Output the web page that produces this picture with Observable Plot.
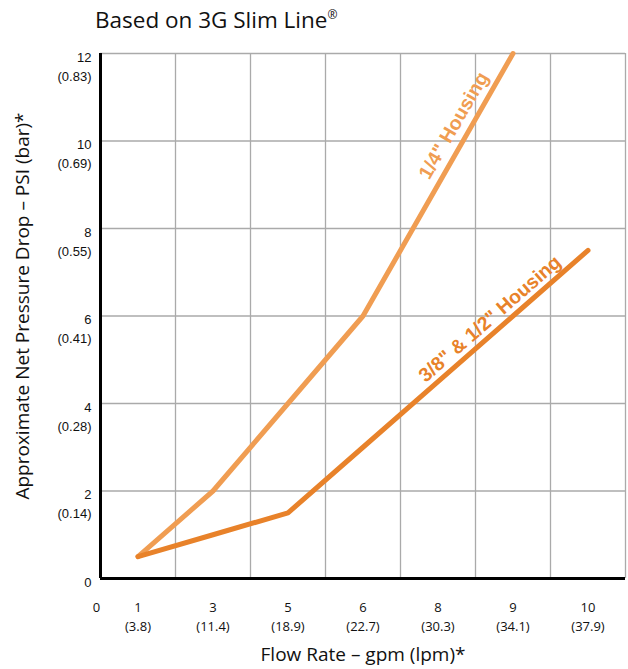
<!DOCTYPE html>
<html>
<head>
<meta charset="utf-8">
<script src="https://cdn.jsdelivr.net/npm/d3@7"></script>
<script src="https://cdn.jsdelivr.net/npm/@observablehq/plot@0.6"></script>
<style>
  html, body { margin: 0; padding: 0; background: #fff; }
  #title { height: 40px; line-height: 40px; padding-left: 95px; font-family: "Open Sans", sans-serif; font-size: 22.5px; color: #111; }
  #title sup { font-size: 12px; vertical-align: 9px; line-height: 0; }
</style>
</head>
<body>
<div id="title">Based on 3G Slim Line<sup>®</sup></div>
<div id="chart"></div>
<script>
// categories (flow rate, gpm) and their lpm equivalents
const xCats = ["1", "3", "5", "6", "8", "9", "10"];
const xLpm = ["3.8", "11.4", "18.9", "22.7", "30.3", "34.1", "37.9"];
// y ticks (PSI) and bar equivalents
const yTicks = [0, 2, 4, 6, 8, 10, 12];
const yBar = ["", "0.14", "0.28", "0.41", "0.55", "0.69", "0.83"];
// series: 1/4" Housing
const quarterFlow = ["1", "3", "5", "6", "8", "9"];
const quarterPsi = [0.5, 2, 4, 6, 9, 12];
// series: 3/8" & 1/2" Housing
const halfFlow = ["1", "3", "5", "6", "8", "9", "10"];
const halfPsi = [0.5, 1, 1.5, 3, 4.5, 6, 7.5];
const seriesNames = ["1/4\" Housing", "3/8\" & 1/2\" Housing"];

const lightC = "#F09D52";
const darkC = "#E8822A";

const xPos = c => xCats.indexOf(c) + 0.5;
const quarter = quarterFlow.map((f, i) => ({x: xPos(f), y: quarterPsi[i]}));
const half = halfFlow.map((f, i) => ({x: xPos(f), y: halfPsi[i]}));

function along(pts, i, t) {
  return {x: pts[i].x + (pts[i + 1].x - pts[i].x) * t, y: pts[i].y + (pts[i + 1].y - pts[i].y) * t};
}
const lab1 = along(quarter, 4, 0.39);
const lab2 = along(half, 4, 0.805);

const edges = d3.range(1, xCats.length + 1);
const xTickPos = xCats.map(xPos);

const chart = Plot.plot({
  width: 628,
  height: 629,
  marginLeft: 100,
  marginRight: 3,
  marginTop: 13,
  marginBottom: 91,
  x: {domain: [0, xCats.length], axis: null},
  y: {domain: [0, 12], axis: null},
  style: {fontFamily: "'Open Sans', sans-serif", fontSize: "13px", color: "#111", background: "white", overflow: "visible"},
  marks: [
    Plot.ruleX(edges, {stroke: "#aaa", strokeWidth: 1.3}),
    Plot.ruleY(yTicks.filter(v => v > 0), {stroke: "#aaa", strokeWidth: 1.3}),
    Plot.line(quarter, {x: "x", y: "y", stroke: lightC, strokeWidth: 5, strokeLinecap: "round", strokeLinejoin: "round"}),
    Plot.line(half, {x: "x", y: "y", stroke: darkC, strokeWidth: 5, strokeLinecap: "round", strokeLinejoin: "round"}),
    Plot.ruleX([0], {stroke: "#000", strokeWidth: 3}),
    Plot.ruleY([0], {stroke: "#000", strokeWidth: 3}),
    Plot.text([lab1], {x: "x", y: "y", text: () => seriesNames[0], rotate: -60, dx: -13.5, dy: -8,
      fill: lightC, fontWeight: "bold", fontSize: 19.5, fontFamily: "'Liberation Sans', Arial, sans-serif"}),
    Plot.text([lab2], {x: "x", y: "y", text: () => seriesNames[1], rotate: -41, dx: -8.5, dy: -10,
      fill: darkC, fontWeight: "bold", fontSize: 19.5, fontFamily: "'Liberation Sans', Arial, sans-serif"}),
    Plot.text(yTicks, {x: 0, y: d => d, text: (d, i) => d === 0 ? "0" : `${d}\n(${yBar[yTicks.indexOf(d)]})`,
      textAnchor: "end", lineAnchor: "top", dx: -9, dy: -5, fontSize: 13, lineHeight: 1.45,
      fontFamily: "'Liberation Sans', Arial, sans-serif", fill: "#111"}),
    Plot.text([0], {x: d => d, y: 0, text: d => String(d),
      textAnchor: "middle", lineAnchor: "top", dx: -4, dy: 24, fontSize: 13, fill: "#111"}),
    Plot.text(xTickPos, {x: d => d, y: 0, text: d => `${xCats[d - 0.5]}\n(${xLpm[d - 0.5]})`,
      textAnchor: "middle", lineAnchor: "top", dy: 20, fontSize: 13, lineHeight: 1.45, fill: "#111"}),
    Plot.text(["Approximate Net Pressure Drop – PSI (bar)*"], {frameAnchor: "left", textAnchor: "middle", text: d => d, rotate: -90,
      dx: -78, dy: -10, fontSize: 19, fill: "#111"}),
    Plot.text(["Flow Rate – gpm (lpm)*"], {frameAnchor: "bottom", textAnchor: "middle", text: d => d, dy: 82, fontSize: 19, fill: "#111"})
  ]
});
document.getElementById("chart").appendChild(chart);
</script>
</body>
</html>
